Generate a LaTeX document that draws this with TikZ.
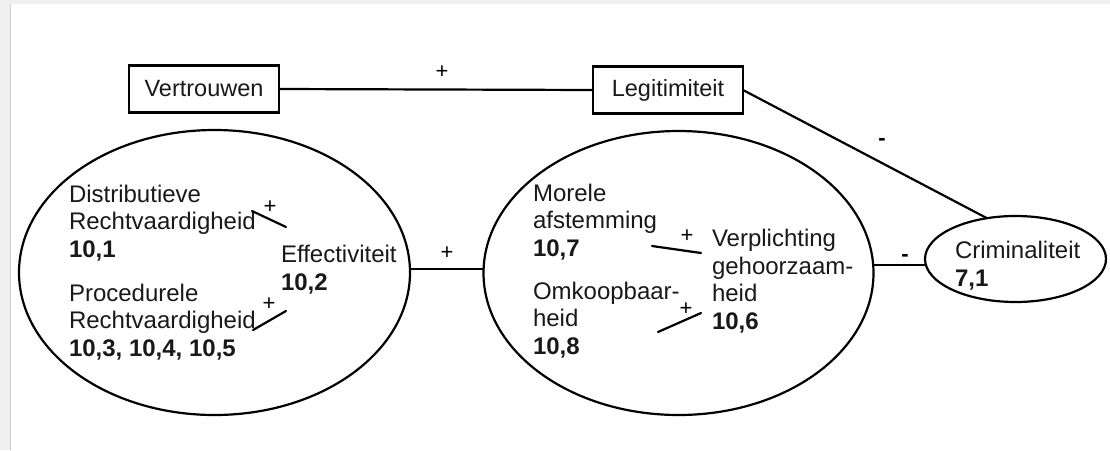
\documentclass[tikz,border=0pt]{standalone}
\usepackage{fontspec}
\setmainfont{Liberation Sans}
\usetikzlibrary{shapes.geometric}
\begin{document}
\begin{tikzpicture}[x=1pt,y=-1pt,
  every node/.style={inner sep=0pt, outer sep=0pt},
  txt/.style={font=\fontsize{24}{27.5}\selectfont, align=left, anchor=base west, text=black!90},
  sgn/.style={font=\fontsize{22}{22}\selectfont, text=black},
  boxn/.style={draw, line width=2.2pt, minimum width=150pt, minimum height=47pt, font=\fontsize{23.5}{27.5}\selectfont, text=black!90},
  ell/.style={draw, ellipse, line width=2.2pt},
  conn/.style={line width=2.2pt, line cap=round}]
\useasboundingbox (0,0) rectangle (1110,450);
\fill[gray!12] (0,0) rectangle (1110,450);
\fill[white] (11,4) rectangle (1110,450);
\draw[gray!40, line width=1pt] (10.5,4) -- (10.5,450);

% boxes
\node[boxn] (vert) at (204,89) {Vertrouwen};
\node[boxn] (legit) at (668,90) {Legitimiteit};

% ellipses
\node[ell, minimum width=391pt, minimum height=285pt] (left) at (214.5,272.5) {};
\node[ell, minimum width=390pt, minimum height=284pt] (mid) at (678.5,273) {};
\node[ell, minimum width=181pt, minimum height=86pt] (crim) at (1015.5,259) {};

% texts (anchored at the baseline of the last line)
\node[txt] (dist) at (69,257) {Distributieve\\Rechtvaardigheid\\\textbf{10,1}};
\node[txt] (proc) at (69,356) {Procedurele\\Rechtvaardigheid\\\textbf{10,3, 10,4, 10,5}};
\node[txt] (eff) at (281,290) {Effectiviteit\\\textbf{10,2}};
\node[txt] (mor) at (533,256) {Morele\\afstemming\\\textbf{10,7}};
\node[txt] (omk) at (533,354) {Omkoopbaar-\\heid\\\textbf{10,8}};
\node[txt] (verp) at (712,329) {Verplichting\\gehoorzaam-\\heid\\\textbf{10,6}};
\node[txt] (crimt) at (955,286) {Criminaliteit\\\textbf{7,1}};

% small connector ends
\coordinate (d1) at (252,211);
\coordinate (e1) at (286,227);
\coordinate (p1) at (253,330);
\coordinate (e2) at (286,311);
\coordinate (m1) at (652,246);
\coordinate (v1) at (701,253);
\coordinate (o1) at (658,332);
\coordinate (v2) at (701,313);

% connectors
\draw[conn] (vert.east) -- (legit.west);
\draw[conn] (legit.east) -- (crim.125);
\draw[conn] (left.1) -- (left.1 -| mid.west);
\draw[conn] (crim.184 -| mid.east) -- (crim.184);
\draw[conn] (d1) -- (e1);
\draw[conn] (p1) -- (e2);
\draw[conn] (m1) -- (v1);
\draw[conn] (o1) -- (v2);

% signs
\node[sgn] (s1) at (442,72) {+};
\node[sgn] (s2) at (447,253) {+};
\node[sgn] (s3) at (270,207) {+};
\node[sgn] (s4) at (269,304) {+};
\node[sgn] (s5) at (687,236) {+};
\node[sgn] (s6) at (686,309) {+};
\node[sgn] (s7) at (882,142) {\textbf{-}};
\node[sgn] (s8) at (905,258) {\textbf{-}};
\end{tikzpicture}
\end{document}
